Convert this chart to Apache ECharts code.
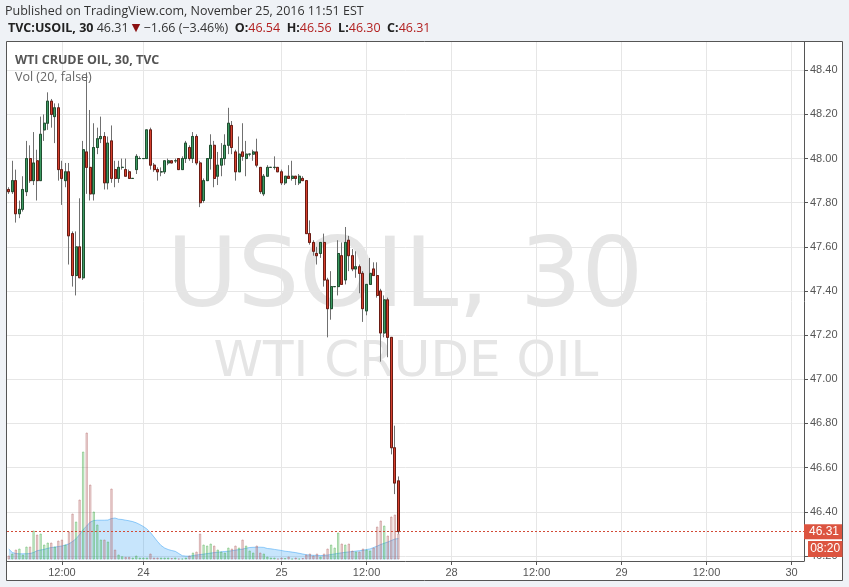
<!DOCTYPE html>
<html><head><meta charset="utf-8">
<script src="https://cdn.jsdelivr.net/npm/echarts@6/dist/echarts.min.js"></script>
<style>html,body{margin:0;padding:0;background:#eff2f6;}#c{width:849px;height:587px;}</style>
</head><body><div id="c"></div>
<script>
// ---- data (30-minute bars, TVC:USOIL) ----
const opens = [47.86,47.85,47.90,47.75,47.77,47.85,48.00,47.90,47.99,47.90,
48.13,48.16,48.26,48.19,48.23,47.95,47.90,47.94,47.66,47.47,
47.60,47.46,48.03,47.96,47.84,48.05,48.09,48.10,47.89,48.08,
47.95,47.91,47.96,47.95,47.94,47.91,47.95,48.00,48.00,48.00,
48.13,47.97,47.95,47.94,47.94,47.98,47.99,47.99,48.00,47.95,
48.00,48.05,48.00,48.10,47.98,47.81,47.90,48.00,48.06,47.92,
47.97,48.00,48.06,48.15,48.03,47.94,48.03,48.00,48.02,48.02,
48.03,47.96,47.84,47.92,47.96,47.96,47.96,47.94,47.89,47.92,
47.91,47.92,47.89,47.91,47.90,47.66,47.62,47.57,47.57,47.62,
47.45,47.32,47.42,47.42,47.56,47.45,47.63,47.56,47.50,47.51,
47.48,47.31,47.43,47.50,47.47,47.40,47.21,47.36,47.19,46.69,
46.54];
const closes = [47.85,47.90,47.75,47.77,47.86,48.00,47.90,47.98,47.90,48.11,
48.16,48.26,48.20,48.23,47.95,47.91,47.94,47.65,47.47,47.60,
47.46,48.04,47.96,47.84,48.05,48.09,48.10,47.89,48.07,47.91,
47.91,47.96,47.96,47.92,47.91,47.91,48.01,48.00,48.00,48.13,
47.97,47.95,47.94,47.94,47.99,47.99,47.98,47.99,47.95,48.00,
48.07,48.00,48.10,47.98,47.80,47.90,48.00,48.06,47.91,47.97,
48.00,48.06,48.16,48.05,47.94,48.02,48.01,48.02,48.02,48.03,
47.97,47.85,47.92,47.96,47.96,47.96,47.94,47.89,47.92,47.91,
47.92,47.91,47.92,47.90,47.66,47.62,47.58,47.56,47.62,47.45,
47.32,47.42,47.42,47.57,47.43,47.62,47.56,47.50,47.51,47.48,
47.32,47.43,47.48,47.47,47.38,47.21,47.36,47.19,46.69,46.53,
46.31];
const lows = [47.84,47.84,47.71,47.73,47.76,47.83,47.89,47.88,47.81,47.90,
48.08,48.13,48.14,48.07,47.90,47.79,47.87,47.52,47.42,47.38,
47.46,47.45,47.84,47.81,47.81,48.02,48.07,47.86,47.86,47.89,
47.87,47.89,47.95,47.92,47.91,47.91,47.93,48.00,48.00,48.00,
47.95,47.94,47.90,47.92,47.93,47.97,47.98,47.98,47.95,47.95,
47.98,47.99,47.98,47.97,47.78,47.80,47.90,47.95,47.87,47.88,
47.92,47.97,48.02,48.02,47.90,47.94,47.99,47.92,48.01,47.99,
47.96,47.84,47.83,47.92,47.96,47.95,47.94,47.88,47.88,47.91,
47.90,47.88,47.88,47.90,47.66,47.61,47.56,47.52,47.55,47.42,
47.19,47.27,47.42,47.38,47.43,47.43,47.49,47.49,47.46,47.39,
47.26,47.29,47.43,47.47,47.37,47.08,47.19,47.10,46.66,46.48,
46.30];
const highs = [47.87,47.99,47.95,47.81,47.92,48.08,48.06,48.12,48.04,48.19,
48.20,48.30,48.27,48.25,48.25,47.99,47.98,47.98,47.67,47.67,
47.82,48.08,48.39,48.22,48.16,48.14,48.19,48.12,48.10,48.15,
47.99,47.99,48.00,48.00,47.95,47.91,48.02,48.01,48.00,48.13,
48.14,47.98,47.96,47.96,47.99,48.00,47.99,48.00,48.00,48.01,
48.08,48.06,48.12,48.11,47.99,47.91,48.00,48.11,48.08,48.03,
48.07,48.11,48.23,48.17,48.04,48.10,48.16,48.08,48.02,48.04,
48.09,47.96,47.93,47.97,47.96,48.01,47.96,47.95,47.92,47.97,
47.99,47.92,47.93,47.92,47.90,47.72,47.63,47.60,47.62,47.66,
47.46,47.49,47.42,47.63,47.62,47.69,47.65,47.59,47.58,47.52,
47.49,47.43,47.55,47.53,47.53,47.41,47.38,47.37,47.19,46.79,
46.56];
// volume (relative units)
const volumes = [4,6,10,11,5,13,13,29,25,26,
15,17,17,13,19,20,15,28,46,38,
60,108,127,75,48,35,20,20,18,71,
10,5,3.3,2.7,2.7,2,4,2,2,2,
6,2,2,2,2,2,1.5,2,1,1,
2,4,7,8,26,15,14,16,14,10,
8,7,12,11,14,12,20,14,9,7,
14,7,6,3,2,2,1,2,1.5,3,
1,2,1,1.5,5,6,4,6,3,6,
11,15,12,27,16,15,16,9,8,8,
11,10,9,12,33,39,34,24,43,45,
26];
// Vol (20) moving average, read from the blue area
const volumeMA = [10.5,7,6,5.7,5.7,5.8,6,7,8.8,9.5,
10.2,11.2,12,12.4,13,13.5,14.5,15.7,18,20.8,
25,30,33.5,37.5,39,39.3,39.3,39.3,39.5,41,
41.5,40.3,40,39.3,38.7,37.9,36.7,35,33,30.5,
27,22.5,18,14,11.5,10,9,8.2,6,3.8,
3.4,3.3,4,4.5,4.9,5.4,5.9,6.4,6.9,7.3,
7.7,8,8.3,8.8,9.4,9.9,10.4,11.3,12,12.2,
12.3,12.3,12.1,11,10.7,10.1,9.6,9,8.3,7.9,
7.4,6.9,6.2,5.5,4.8,4.4,4.2,4.1,4,4,
4.5,5,5.6,6.2,6.7,7.2,7.6,8,8.4,8.8,
9.2,10,10.6,12,13.4,15,16.3,17.5,19,20.5,
21];
const slotCount = 225;              // bar slots on the time axis (incl. future)
const xTickIndex = [15,38,77,101,125,149,173,197,221];
const xTickText = ['12:00','24','25','12:00','28','12:00','29','12:00','30'];
const yTickValues = [46.2,46.4,46.6,46.8,47.0,47.2,47.4,47.6,47.8,48.0,48.2,48.4];
const priceMin = 46.177, priceMax = 48.528;
const prevClose = 47.97;
const countdown = '08:20';
const volumeScaleMax = 517.5;

// ---- build ----
const categories = Array.from({length: slotCount}, (_, i) => String(i));
const tickMap = {};
xTickIndex.forEach((idx, k) => { tickMap[idx] = xTickText[k]; });
const isTick = (i) => tickMap[i] !== undefined;
const last = closes.length - 1;
const chg = closes[last] - prevClose;
const pct = chg / prevClose * 100;
const minus = (v) => (v < 0 ? '\u2212' : '+') + Math.abs(v).toFixed(2);

const axisColor = '#555';
const gridColor = '#e6e6e6';
const upFill = '#3d9a62', upBorder = '#1f4f30';
const downFill = '#d6402e', downBorder = '#6a1b13';
const labelRed = '#dc5440';

const wickData = opens.map((o, i) => [o, closes[i], lows[i], highs[i]]);
const bodyData = opens.map((o, i) => [o, closes[i], Math.min(o, closes[i]), Math.max(o, closes[i])]);
const volData = volumes.map((v, i) => ({
  value: v,
  itemStyle: closes[i] >= opens[i]
    ? {color: 'rgba(76,175,80,0.2)', borderColor: 'rgba(76,175,80,0.45)', borderWidth: 1}
    : {color: 'rgba(180,100,100,0.18)', borderColor: 'rgba(180,100,100,0.45)', borderWidth: 1}
}));

const headerRich = '{b|TVC:USOIL, 30} {n|' + closes[last].toFixed(2) + '} {t|\u25BC} {n|' + minus(chg) + ' (' + minus(pct) + '%)}  ' +
  '{b|O:}{r|' + opens[last].toFixed(2) + '}  {b|H:}{r|' + highs[last].toFixed(2) + '}  {b|L:}{r|' + lows[last].toFixed(2) + '}  {b|C:}{r|' + closes[last].toFixed(2) + '}';

const chart = echarts.init(document.getElementById('c'));
chart.setOption({
  animation: false,
  backgroundColor: '#ffffff',
  textStyle: {fontFamily: 'Liberation Sans'},
  grid: [
    {left: 7, right: 45, top: 42, bottom: 26},
    {left: 7, right: 45, top: 42, bottom: 27.5}
  ],
  xAxis: [
    {type: 'category', gridIndex: 0, data: categories, boundaryGap: true,
      axisLine: {show: true, lineStyle: {color: axisColor}},
      axisTick: {show: true, alignWithLabel: true, interval: isTick, length: 4, lineStyle: {color: axisColor}},
      axisLabel: {show: true, interval: isTick, formatter: (v, i) => tickMap[i] || '', color: axisColor, fontSize: 11, margin: 6},
      splitLine: {show: true, interval: isTick, alignWithLabel: true, lineStyle: {color: gridColor}}
    },
    {type: 'category', gridIndex: 1, data: categories, boundaryGap: true, show: false}
  ],
  yAxis: [
    {type: 'value', gridIndex: 0, position: 'right', min: priceMin, max: priceMax, scale: true,
      axisLine: {show: true, lineStyle: {color: axisColor}},
      axisTick: {show: true, length: 4, customValues: yTickValues, lineStyle: {color: axisColor}},
      axisLabel: {customValues: yTickValues, formatter: (v) => v.toFixed(2), color: axisColor, fontSize: 11, margin: 6},
      splitLine: {show: true, lineStyle: {color: gridColor}}
    },
    {type: 'value', gridIndex: 1, min: 0, max: volumeScaleMax, show: false}
  ],
  graphic: [
    {type: 'rect', z: 0, shape: {x: 0, y: 0, width: 849, height: 41.5}, style: {fill: '#eff2f6'}},
    {type: 'rect', z: 0, shape: {x: 0, y: 0, width: 6.5, height: 587}, style: {fill: '#eff2f6'}},
    {type: 'rect', z: 0, shape: {x: 842.5, y: 0, width: 7, height: 587}, style: {fill: '#eff2f6'}},
    {type: 'rect', z: 0, shape: {x: 0, y: 580.5, width: 849, height: 7}, style: {fill: '#eff2f6'}},
    {type: 'rect', z: 20, shape: {x: 6.5, y: 41.5, width: 836, height: 539}, style: {fill: 'none', stroke: '#555', lineWidth: 1}},
    {type: 'text', z: 0, x: 405, y: 281, style: {text: 'USOIL, 30', font: '97px "DejaVu Sans"', fill: '#e5e5e5', textAlign: 'center', textVerticalAlign: 'middle'}},
    {type: 'text', z: 0, x: 406, y: 363, style: {text: 'WTI CRUDE OIL', font: '50px "DejaVu Sans"', fill: '#e5e5e5', textAlign: 'center', textVerticalAlign: 'middle'}},
    {type: 'text', z: 21, x: 5, y: 11.2, style: {text: 'Published on TradingView.com, November 25, 2016 11:51 EST', font: '12.5px "Open Sans"', fill: '#333', textVerticalAlign: 'middle'}},
    {type: 'text', z: 21, x: 8, y: 28.6, style: {text: headerRich, font: '12.5px "Open Sans"', fill: '#333', textVerticalAlign: 'middle',
      rich: {
        b: {fontFamily: 'Open Sans', fontSize: 12.5, fontWeight: 'bold', fill: '#222'},
        n: {fontFamily: 'Open Sans', fontSize: 12.5, fill: '#333'},
        t: {fontFamily: 'DejaVu Sans', fontSize: 11, fill: '#8b1010'},
        r: {fontFamily: 'Open Sans', fontSize: 12.5, fill: '#b21f1f'}
      }}},
    {type: 'text', z: 21, x: 15, y: 60.2, style: {text: 'WTI CRUDE OIL, 30, TVC', font: 'bold 12.5px "Open Sans"', fill: '#555', textVerticalAlign: 'middle'}},
    {type: 'text', z: 21, x: 15, y: 77.8, style: {text: 'Vol (20, false)', font: '12.5px "Open Sans"', fill: '#666', textVerticalAlign: 'middle'}},
    {type: 'rect', z: 22, shape: {x: 808, y: 541, width: 34.5, height: 16}, style: {fill: labelRed}},
    {type: 'text', z: 23, x: 825.2, y: 549, style: {text: countdown, font: '12px "Liberation Sans"', fill: '#fff', textAlign: 'center', textVerticalAlign: 'middle'}}
  ],
  series: [
    {type: 'line', name: 'Vol MA', xAxisIndex: 1, yAxisIndex: 1, data: volumeMA, symbol: 'none', silent: true, z: 1,
      lineStyle: {width: 1, color: 'rgba(33,150,243,0.45)'}, areaStyle: {color: 'rgba(33,150,243,0.36)'}},
    {type: 'bar', name: 'Vol', xAxisIndex: 1, yAxisIndex: 1, data: volData, barWidth: 2.4, silent: true, z: 2},
    {type: 'candlestick', name: 'wick', xAxisIndex: 0, yAxisIndex: 0, data: wickData, barWidth: 2.5, silent: true, z: 3,
      itemStyle: {color: 'rgba(0,0,0,0)', color0: 'rgba(0,0,0,0)', borderColor: '#707070', borderColor0: '#707070', borderColorDoji: '#707070', borderWidth: 1}},
    {type: 'candlestick', name: 'USOIL', xAxisIndex: 0, yAxisIndex: 0, data: bodyData, barWidth: 2.5, silent: true, z: 4,
      itemStyle: {color: upFill, color0: downFill, borderColor: upBorder, borderColor0: downBorder, borderColorDoji: upBorder, borderWidth: 1},
      markLine: {silent: true, symbol: ['none', 'none'], animation: false,
        data: [{yAxis: closes[last]}],
        lineStyle: {color: '#d24b37', type: [2, 2], width: 1},
        label: {show: true, position: 'end', formatter: closes[last].toFixed(2), color: '#fff', backgroundColor: labelRed,
          padding: [2, 4, 1, 5], fontSize: 12, fontFamily: 'Liberation Sans', distance: 0}
      }}
  ]
});
</script></body></html>
